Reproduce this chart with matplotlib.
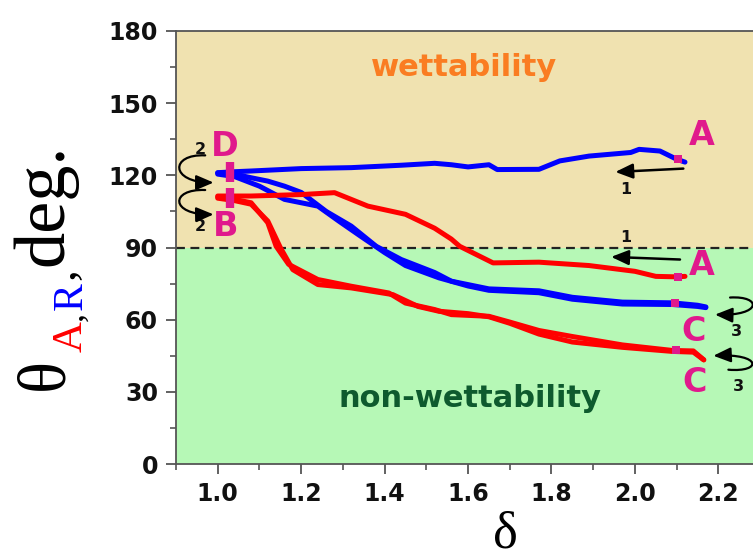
import matplotlib
matplotlib.use("Agg")
import matplotlib.pyplot as plt
from matplotlib.patches import FancyArrowPatch
from matplotlib.path import Path
from matplotlib.ticker import MultipleLocator
from matplotlib.transforms import IdentityTransform

# ---------------- data ----------------
blue_adv_x = [1.00, 1.04, 1.08, 1.20, 1.32, 1.44, 1.52, 1.56, 1.60, 1.65, 1.67, 1.77, 1.82, 1.89, 1.99, 2.01, 2.06, 2.10, 2.12]
blue_adv_y = [121.1, 121.5, 121.8, 122.8, 123.2, 124.2, 125.0, 124.4, 123.5, 124.4, 122.4, 122.5, 126.0, 128.0, 129.5, 130.8, 130.1, 126.7, 125.5]

blue_rec1_x = [1.00, 1.04, 1.08, 1.12, 1.16, 1.20, 1.26, 1.32, 1.38, 1.44, 1.52, 1.56, 1.65, 1.77, 1.85, 1.97, 2.09, 2.15, 2.17]
blue_rec1_y = [121.0, 120.5, 119.0, 117.6, 115.5, 112.9, 105.0, 98.9, 90.5, 85.0, 79.6, 76.0, 72.8, 72.0, 69.3, 67.3, 67.0, 66.0, 65.3]
blue_rec2_x = [1.00, 1.04, 1.10, 1.16, 1.24, 1.29, 1.34, 1.40, 1.45, 1.53, 1.60, 1.65, 1.77, 1.85, 1.97, 2.09, 2.15, 2.17]
blue_rec2_y = [120.5, 119.5, 115.5, 110.0, 107.2, 101.0, 95.0, 87.9, 82.5, 77.4, 74.0, 72.2, 71.2, 68.5, 66.5, 66.3, 65.5, 65.0]

red_adv_x = [1.00, 1.08, 1.20, 1.28, 1.32, 1.36, 1.45, 1.52, 1.56, 1.58, 1.66, 1.77, 1.89, 2.00, 2.05, 2.10, 2.12]
red_adv_y = [111.4, 111.4, 112.0, 112.8, 110.0, 107.2, 103.8, 98.0, 93.5, 90.5, 83.6, 83.9, 82.5, 80.1, 78.0, 77.8, 78.0]

red_rec1_x = [1.00, 1.04, 1.08, 1.12, 1.14, 1.17, 1.24, 1.32, 1.41, 1.45, 1.52, 1.56, 1.65, 1.70, 1.77, 1.85, 1.97, 2.09, 2.14, 2.165]
red_rec1_y = [111.0, 110.0, 108.6, 100.3, 90.5, 83.0, 76.7, 73.9, 71.1, 66.9, 64.2, 62.1, 61.4, 59.0, 55.5, 53.0, 49.5, 47.2, 47.0, 43.3]
red_rec2_x = [1.00, 1.04, 1.08, 1.12, 1.15, 1.18, 1.24, 1.32, 1.42, 1.48, 1.53, 1.60, 1.65, 1.70, 1.77, 1.85, 1.97, 2.09, 2.14, 2.165]
red_rec2_y = [110.5, 109.5, 108.0, 101.0, 90.0, 80.8, 74.6, 73.2, 70.4, 65.5, 63.5, 62.5, 61.2, 58.5, 54.0, 50.7, 48.5, 46.8, 46.5, 43.3]

bar_x = [1.030, 1.030]
bar_y = [121.3, 110.4]
point_x = [2.103, 2.103, 2.096, 2.099]
point_y = [126.7, 77.9, 67.1, 47.5]

letter_text = ["D", "B", "A", "A", "C", "C"]
letter_x = [1.018, 1.018, 2.161, 2.161, 2.140, 2.144]
letter_y = [132.1, 98.8, 136.5, 82.5, 55.0, 33.8]

step_text = ["1", "1", "2", "2", "3", "3"]
step_x = [1.977, 1.977, 0.958, 0.958, 2.244, 2.248]
step_y = [114.2, 94.0, 130.8, 98.9, 55.1, 32.2]

straight_start = [(2.116, 122.8), (2.108, 85.0)]
straight_end = [(1.953, 121.4), (1.943, 86.1)]
hook_paths = [
    [(0.970, 128.3), (0.885, 129.0), (0.885, 117.0), (0.990, 117.0)],
    [(0.970, 113.9), (0.885, 114.5), (0.885, 103.5), (0.990, 103.75)],
    [(2.228, 69.2), (2.305, 70.0), (2.305, 61.5), (2.192, 62.1)],
    [(2.224, 39.2), (2.305, 38.0), (2.305, 46.0), (2.188, 45.0)],
]

x_ticks = [1.0, 1.2, 1.4, 1.6, 1.8, 2.0, 2.2]
y_ticks = [0, 30, 60, 90, 120, 150, 180]

# ---------------- styling ----------------
W, H = 753, 560
PINK = "#E0198C"
TAN = "#F0E2B0"
GREEN = "#B6F8B6"

fig = plt.figure(figsize=(W / 100, H / 100), dpi=100)
ax = fig.add_axes([176 / W, 96 / H, 1 - 176 / W, (464 - 31) / H])
ax.set_xlim(0.9, 2.283)
ax.set_ylim(0, 180)

ax.axhspan(90, 180, color=TAN, zorder=0, lw=0)
ax.axhspan(0, 90, color=GREEN, zorder=0, lw=0)
ax.axhline(90, color="#222222", lw=1.6, ls=(0, (4, 2.5)), zorder=1)

lw = 3.6
for xs, ys, c in [(blue_adv_x, blue_adv_y, "#0000FF"),
                  (blue_rec1_x, blue_rec1_y, "#0000FF"),
                  (blue_rec2_x, blue_rec2_y, "#0000FF"),
                  (red_adv_x, red_adv_y, "#FF0000"),
                  (red_rec1_x, red_rec1_y, "#FF0000"),
                  (red_rec2_x, red_rec2_y, "#FF0000")]:
    ax.plot(xs, ys, color=c, lw=lw, solid_capstyle="round", solid_joinstyle="round", zorder=3)

ax.plot(bar_x, bar_y, ls="none", marker="|", ms=14, mew=6, color=PINK, zorder=5)
ax.plot(point_x, point_y, ls="none", marker="s", ms=6, color=PINK, mew=0, zorder=5)

for t, x, y in zip(letter_text, letter_x, letter_y):
    ax.text(x, y, t, color=PINK, fontsize=24, fontweight="bold", family="DejaVu Sans",
            ha="center", va="center", zorder=6, clip_on=False)

for t, x, y in zip(step_text, step_x, step_y):
    ax.text(x, y, t, color="#111111", fontsize=11.5, fontweight="bold", family="DejaVu Sans",
            ha="center", va="center", zorder=6, clip_on=False)

for s, e in zip(straight_start, straight_end):
    ax.add_patch(FancyArrowPatch(s, e, arrowstyle="-|>,head_length=0.7,head_width=0.3",
                                 mutation_scale=15, lw=1.8, color="black", zorder=6,
                                 shrinkA=0, shrinkB=0))

for pts in hook_paths:
    p = Path(pts, [Path.MOVETO, Path.CURVE4, Path.CURVE4, Path.CURVE4])
    ax.add_patch(FancyArrowPatch(path=p, arrowstyle="-|>,head_length=0.7,head_width=0.3",
                                 mutation_scale=15, lw=1.6, color="black", zorder=6,
                                 clip_on=False))

ax.text(1.590, 161.2, "wettability", color="#FA7D22", fontsize=22, fontweight="bold",
        family="DejaVu Sans", ha="center", va="baseline", zorder=2)
ax.text(1.605, 23.9, "non-wettability", color="#0E5A2E", fontsize=22, fontweight="bold",
        family="DejaVu Sans", ha="center", va="baseline", zorder=2)

# axes
ax.spines["right"].set_visible(False)
for side in ["left", "top", "bottom"]:
    ax.spines[side].set_color("#555555")
    ax.spines[side].set_linewidth(1.3)
ax.set_xticks(x_ticks)
ax.set_yticks(y_ticks)
ax.set_xticklabels([f"{v:.1f}" for v in x_ticks])
ax.set_yticklabels([str(v) for v in y_ticks])
ax.xaxis.set_minor_locator(MultipleLocator(0.1))
ax.yaxis.set_minor_locator(MultipleLocator(15))
ax.tick_params(which="major", direction="out", length=7, width=1.3, color="#555555")
ax.tick_params(which="minor", direction="out", length=4, width=1.2, color="#555555")
ax.tick_params(axis="y", pad=6)
ax.tick_params(axis="x", pad=6)
for lab in ax.get_xticklabels() + ax.get_yticklabels():
    lab.set_fontfamily("DejaVu Sans")
    lab.set_fontweight("bold")
    lab.set_fontsize(17)
    lab.set_color("#111111")

# y label composed of coloured pieces (pixel positions, origin bottom-left)
ident = IdentityTransform()
pieces = [("θ", "black", 48, 62, 390),
          ("A", "red", 31, 82, 352),
          (",", "black", 26, 82, 321),
          ("R", "blue", 30, 82, 310),
          (",", "black", 34, 74, 280),
          ("deg.", "black", 52, 62, 266)]
for txt, col, size, xb, ytop in pieces:
    fig.text(xb, H - ytop, txt, color=col, fontsize=size, family="Liberation Serif",
             rotation=90, rotation_mode="anchor", ha="left", va="baseline",
             transform=ident)

fig.text(505, 1, "δ", color="black", fontsize=38, family="Liberation Serif",
         ha="center", va="bottom", transform=ident)

fig.savefig("out.png", dpi=100)
